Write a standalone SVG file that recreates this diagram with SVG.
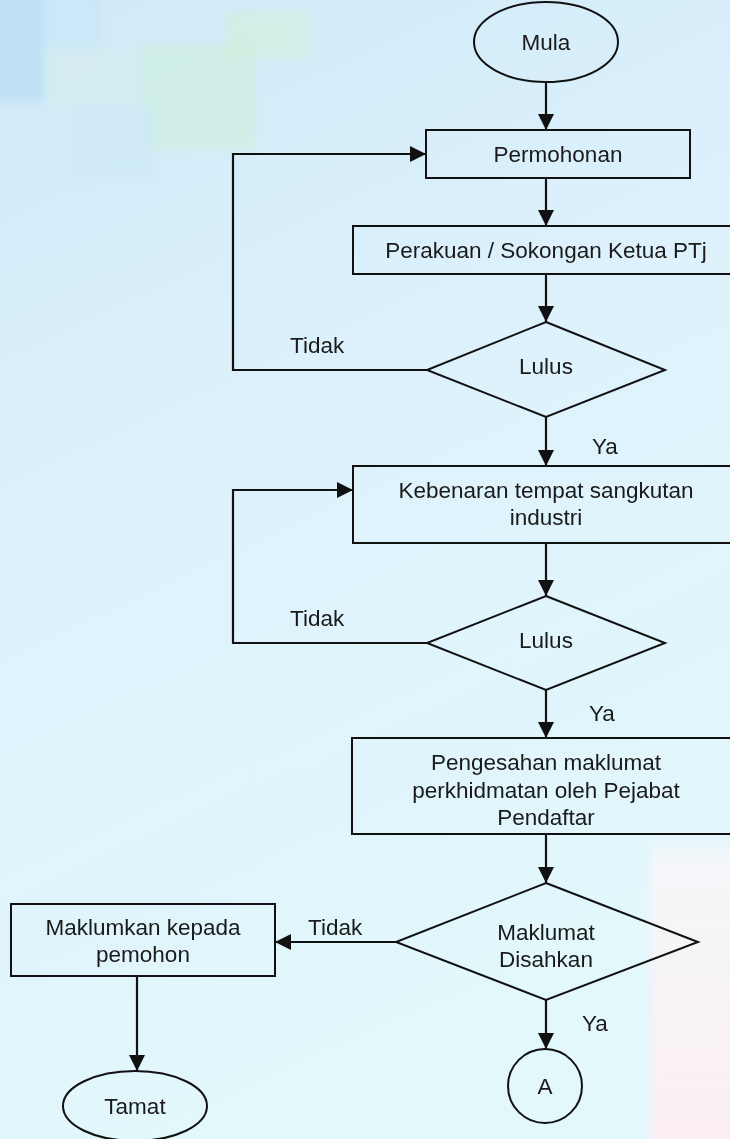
<svg xmlns="http://www.w3.org/2000/svg" width="730" height="1139" viewBox="0 0 730 1139">
<style>
.shape{fill:none;stroke:#111;stroke-width:2}
.conn{fill:none;stroke:#111;stroke-width:2.2}
text{font-family:"Liberation Sans",Arial,sans-serif;font-size:22.5px;fill:#1a1a1a;text-anchor:middle}
.lbl{text-anchor:start}
</style>
<defs>
<linearGradient id="bg" x1="0" y1="0" x2="0.3" y2="1">
<stop offset="0" stop-color="#d0eaf9"/>
<stop offset="0.5" stop-color="#def2fc"/>
<stop offset="1" stop-color="#e2f8fb"/>
</linearGradient>
<linearGradient id="rb" x1="0" y1="0" x2="0" y2="1">
<stop offset="0" stop-color="#f2f7fa" stop-opacity="0"/>
<stop offset="0.1" stop-color="#f4f6f9"/>
<stop offset="1" stop-color="#fbeff3"/>
</linearGradient>
<filter id="soft" x="-20%" y="-20%" width="140%" height="140%"><feGaussianBlur stdDeviation="4"/></filter>
<marker id="ah" markerUnits="userSpaceOnUse" markerWidth="17" markerHeight="16" refX="16" refY="8" orient="auto">
<path d="M0,0 L16,8 L0,16 Z" fill="#111"/>
</marker>
</defs>
<rect x="0" y="0" width="730" height="1139" fill="url(#bg)"/>
<g id="background" filter="url(#soft)">
<rect x="-10" y="-10" width="54" height="112" fill="#b9ddf3" opacity="0.75"/>
<rect x="44" y="-10" width="56" height="58" fill="#c6e4f7" opacity="0.6"/>
<rect x="48" y="48" width="90" height="58" fill="#d5eeea" opacity="0.5"/>
<rect x="140" y="45" width="115" height="105" fill="#cdefdb" opacity="0.6"/>
<rect x="225" y="10" width="85" height="48" fill="#d0f0da" opacity="0.6"/>
<rect x="72" y="105" width="82" height="75" fill="#cce8f7" opacity="0.6"/>
<rect x="650" y="830" width="90" height="320" fill="url(#rb)"/>
</g>

<g id="connectors">
<line class="conn" x1="546" y1="82" x2="546" y2="130" marker-end="url(#ah)"/>
<line class="conn" x1="546" y1="178" x2="546" y2="226" marker-end="url(#ah)"/>
<line class="conn" x1="546" y1="274" x2="546" y2="322" marker-end="url(#ah)"/>
<polyline class="conn" points="427,370 233,370 233,154 426,154" marker-end="url(#ah)"/>
<line class="conn" x1="546" y1="417" x2="546" y2="466" marker-end="url(#ah)"/>
<line class="conn" x1="546" y1="543" x2="546" y2="596" marker-end="url(#ah)"/>
<polyline class="conn" points="427,643 233,643 233,490 353,490" marker-end="url(#ah)"/>
<line class="conn" x1="546" y1="690" x2="546" y2="738" marker-end="url(#ah)"/>
<line class="conn" x1="546" y1="834" x2="546" y2="883" marker-end="url(#ah)"/>
<line class="conn" x1="396" y1="942" x2="275" y2="942" marker-end="url(#ah)"/>
<line class="conn" x1="137" y1="976" x2="137" y2="1071" marker-end="url(#ah)"/>
<line class="conn" x1="546" y1="1000" x2="546" y2="1049" marker-end="url(#ah)"/>
<text class="lbl" x="290" y="353">Tidak</text>
<text class="lbl" x="592" y="454">Ya</text>
<text class="lbl" x="290" y="626">Tidak</text>
<text class="lbl" x="589" y="721">Ya</text>
<text class="lbl" x="308" y="935">Tidak</text>
<text class="lbl" x="582" y="1031">Ya</text>
</g>

<g id="mula">
<ellipse class="shape" cx="546" cy="42" rx="72" ry="40"/>
<text x="546" y="50">Mula</text>
</g>
<g id="permohonan">
<rect class="shape" x="426" y="130" width="264" height="48"/>
<text x="558" y="162">Permohonan</text>
</g>
<g id="perakuan">
<rect class="shape" x="353" y="226" width="400" height="48"/>
<text x="546" y="258">Perakuan / Sokongan Ketua PTj</text>
</g>
<g id="lulus1">
<polygon class="shape" points="546,322 665,370 546,417 427,370"/>
<text x="546" y="374">Lulus</text>
</g>
<g id="kebenaran">
<rect class="shape" x="353" y="466" width="400" height="77"/>
<text x="546" y="498">Kebenaran tempat sangkutan</text>
<text x="546" y="525">industri</text>
</g>
<g id="lulus2">
<polygon class="shape" points="546,596 665,643 546,690 427,643"/>
<text x="546" y="648">Lulus</text>
</g>
<g id="pengesahan">
<rect class="shape" x="352" y="738" width="400" height="96"/>
<text x="546" y="770">Pengesahan maklumat</text>
<text x="546" y="798">perkhidmatan oleh Pejabat</text>
<text x="546" y="825">Pendaftar</text>
</g>
<g id="disahkan">
<polygon class="shape" points="546,883 698,942 546,1000 396,942"/>
<text x="546" y="940">Maklumat</text>
<text x="546" y="967">Disahkan</text>
</g>
<g id="maklumkan">
<rect class="shape" x="11" y="904" width="264" height="72"/>
<text x="143" y="935">Maklumkan kepada</text>
<text x="143" y="962">pemohon</text>
</g>
<g id="tamat">
<ellipse class="shape" cx="135" cy="1106" rx="72" ry="35"/>
<text x="135" y="1114">Tamat</text>
</g>
<g id="connectorA">
<circle class="shape" cx="545" cy="1086" r="37"/>
<text x="545" y="1094">A</text>
</g>
</svg>
